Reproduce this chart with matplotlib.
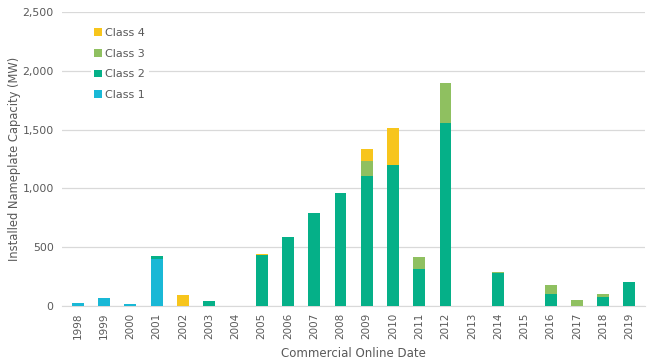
import matplotlib.pyplot as plt
import numpy as np

years = [str(y) for y in range(1998, 2020)]
class1 = [26, 66, 14, 400, 0, 0, 0, 0, 0, 0, 0, 0, 0, 0, 0, 0, 0, 0, 0, 0, 0, 0]
class2 = [0, 0, 0, 23, 0, 40, 0, 435, 584, 795, 965, 1102, 1203, 316, 1554, 0, 277, 0, 102, 0, 79, 203]
class3 = [0, 0, 0, 0, 0, 0, 0, 0, 0, 0, 0, 135, 0, 102, 339, 0, 8, 0, 73, 48, 26, 0]
class4 = [0, 0, 0, 0, 91, 0, 0, 7, 0, 0, 0, 96, 308, 0, 0, 0, 0, 0, 0, 0, 0, 0]

colors = {'Class 1': '#19B8D6', 'Class 2': '#05B088', 'Class 3': '#8FC060', 'Class 4': '#F7C51C'}
text_color = '#595959'

plt.rcParams['font.family'] = ['DejaVu Sans']

fig = plt.figure(figsize=(6.53, 3.63), dpi=100)
ax = fig.add_axes([0.095, 0.157, 0.893, 0.81])

x = np.arange(len(years))
w = 0.45
b1 = np.array(class1)
b2 = b1 + np.array(class2)
b3 = b2 + np.array(class3)
ax.bar(x, class1, w, color=colors['Class 1'], label='Class 1', zorder=3)
ax.bar(x, class2, w, bottom=b1, color=colors['Class 2'], label='Class 2', zorder=3)
ax.bar(x, class3, w, bottom=b2, color=colors['Class 3'], label='Class 3', zorder=3)
ax.bar(x, class4, w, bottom=b3, color=colors['Class 4'], label='Class 4', zorder=3)

ax.set_ylim(0, 2500)
ax.set_xlim(-0.6, len(years) - 0.4)
ax.set_yticks(range(0, 2501, 500))
ax.set_yticklabels([f'{v:,}' for v in range(0, 2501, 500)])
ax.set_xticks(x)
ax.set_xticklabels(years, rotation=90)
ax.tick_params(axis='both', length=0, colors=text_color)
ax.tick_params(axis='y', pad=6, labelsize=7.8)
ax.tick_params(axis='x', pad=5, labelsize=7.5)
ax.grid(axis='y', color='#D9D9D9', linewidth=0.9, zorder=0)
for s in ['top', 'right', 'left']:
    ax.spines[s].set_visible(False)
ax.spines['bottom'].set_color('#D9D9D9')

# axis titles placed on the figure so they stay inside the canvas
fig.text(0.022, 0.157 + 0.81 / 2, 'Installed Nameplate Capacity (MW)', rotation=90,
         ha='center', va='center', color=text_color, fontsize=8.3)
fig.text(0.095 + 0.893 / 2, 0.027, 'Commercial Online Date', ha='center', va='center',
         color=text_color, fontsize=8.5)

handles, labels = ax.get_legend_handles_labels()
leg = ax.legend(handles[::-1], labels[::-1], loc='upper left', bbox_to_anchor=(0.04, 0.975),
                frameon=True, fontsize=8, handlelength=0.7, handleheight=0.7,
                handletextpad=0.3, labelspacing=0.95, borderpad=0.3)
leg.get_frame().set_edgecolor('none')
leg.get_frame().set_facecolor('white')
leg.get_frame().set_alpha(1)
for t in leg.get_texts():
    t.set_color(text_color)

fig.savefig('out.png', dpi=100)
